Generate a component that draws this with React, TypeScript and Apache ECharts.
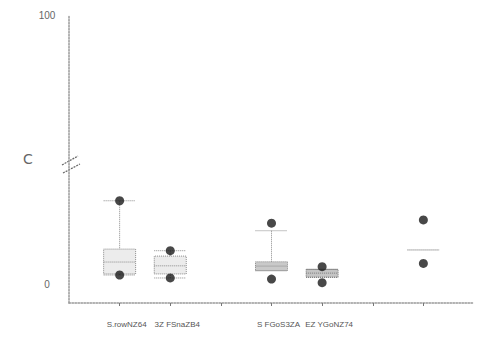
import React, { useEffect, useRef } from "react";
import * as echarts from "echarts";

const categories = ["", "S.rowNZ64", "3Z FSnaZB4", "", "S FGoS3ZA", "EZ YGoNZ74", "", "", ""];
// [min, Q1, median, Q3, max] per category index
const boxIndex = [1, 2, 4, 5, 7];
const boxValues = [
  [3.7, 4.1, 8.5, 13.3, 31.2],
  [2.6, 4.1, 7.1, 10.7, 12.7],
  [5.3, 5.3, 7.0, 8.6, 20.1],
  [2.85, 2.85, 4.4, 5.8, 5.8],
  [13.0, 13.0, 13.0, 13.0, 13.0],
];
const boxFills = ["#ececec", "#ececec", "#c9c9c9", "#c4c4c4", "#f4f4f4"];
const boxBorders = ["#8a8a8a", "#8a8a8a", "#8a8a8a", "#7a7a7a", "#c8c8c8"];
const dotIndex = [1, 1, 2, 2, 4, 4, 5, 5, 7, 7];
const dotValues = [31.2, 3.7, 12.7, 2.6, 22.9, 2.2, 6.8, 0.85, 24.1, 8.0];
const yTicks = [0, 100];

export default function App() {
  const ref = useRef<HTMLDivElement>(null);
  useEffect(() => {
    document.body.style.margin = "0";
    const chart = echarts.init(ref.current!, null, { renderer: "svg" });
    const boxData = categories.map((_, i) => {
      const k = boxIndex.indexOf(i);
      if (k < 0) return "-";
      return {
        value: boxValues[k],
        itemStyle: { color: boxFills[k], borderColor: boxBorders[k] },
      };
    });
    chart.setOption({
      animation: false,
      backgroundColor: "#fff",
      grid: { left: 69, top: 15, width: 410, bottom: 40 },
      xAxis: {
        type: "category",
        data: categories,
        boundaryGap: false,
        axisLine: { onZero: false, lineStyle: { color: "#999", type: "dotted", width: 1.5 } },
        axisTick: { show: true, length: 3, lineStyle: { color: "#777" }, interval: (i: number) => i > 0 && i < 8 },
        axisLabel: { color: "#555", fontSize: 8, margin: 17, interval: 0, padding: [0, 0, 0, 14] },
        splitLine: { show: false },
      },
      yAxis: {
        type: "value",
        min: -6.67,
        max: 100,
        name: "C",
        nameLocation: "middle",
        nameRotate: 0,
        nameGap: 27,
        nameTextStyle: { color: "#666", fontSize: 14, fontFamily: "DejaVu Sans", padding: [10, 0, 0, 0] },
        axisLine: { show: true, lineStyle: { color: "#999", type: "dotted", width: 1.5 } },
        axisTick: { show: false },
        splitLine: { show: false },
        axisLabel: {
          color: "#666",
          fontSize: 10,
          margin: 22,
          align: "center",
          customValues: yTicks,
        },
      },
      series: [
        {
          type: "boxplot",
          data: boxData,
          boxWidth: [32, 32],
          itemStyle: { color: "#e8e8e8", borderColor: "#8a8a8a", borderWidth: 1, borderType: "dotted" },
        },
        {
          type: "scatter",
          data: dotIndex.map((c, i) => [c, dotValues[i]]),
          symbolSize: 9,
          itemStyle: { color: "#1a1a1a" },
          z: 5,
        },
      ],
      graphic: [
        { type: "line", shape: { x1: 62, y1: 165, x2: 78, y2: 156 }, style: { stroke: "#666", lineWidth: 1.2, lineDash: [2, 1] } },
        { type: "line", shape: { x1: 63, y1: 173, x2: 80, y2: 164 }, style: { stroke: "#666", lineWidth: 1.2, lineDash: [2, 1] } },
      ],
    });
    return () => chart.dispose();
  }, []);
  return <div ref={ref} style={{ width: 477, height: 343 }} />;
}
